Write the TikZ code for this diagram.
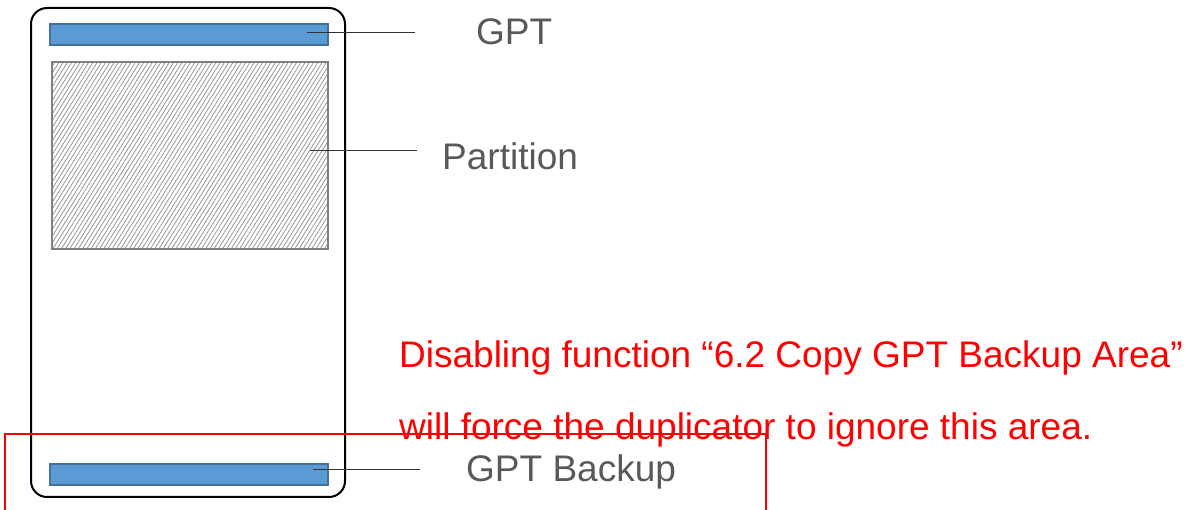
\documentclass[tikz,border=0pt]{standalone}
\usepackage{fontspec}
\setmainfont{Liberation Sans}
\usetikzlibrary{patterns.meta}
\definecolor{barblue}{HTML}{5B9BD5}
\definecolor{baredge}{HTML}{41719C}
\definecolor{txtgray}{HTML}{595959}
\tikzset{
  bar/.style={fill=barblue, draw=baredge, line width=1.2pt, inner sep=0pt, minimum width=278pt, minimum height=21pt},
  leader/.style={draw=black!80, line width=1pt},
  lbl/.style={anchor=base west, inner sep=0pt, text=txtgray, font=\fontsize{37}{44}\selectfont},
  note/.style={anchor=base west, inner sep=0pt, text=red, font=\fontsize{37}{44}\selectfont},
  redline/.style={draw=red, line width=1.8pt}
}
\begin{document}
\begin{tikzpicture}[x=1pt,y=-1pt]
\useasboundingbox (0,0) rectangle (1187,510);
% disk
\draw[line width=2pt, rounded corners=16pt] (31,8) rectangle (345,497);
\node[bar] (gptbar) at (189,34.5) {};
\coordinate (gptin) at (307,33);
\fill[pattern={Lines[angle=58,distance=3.6pt,line width=0.7pt]}, pattern color=black!45] (52,62) rectangle (328,249);
\draw[draw=gray, line width=2pt] (52,62) rectangle (328,249);
\coordinate (partin) at (310,151);
\node[bar] (bakbar) at (189,474.5) {};
\coordinate (bakin) at (313,470);
% leaders
\coordinate (gptout) at (415,33);
\coordinate (partout) at (417,151);
\coordinate (bakout) at (420,470);
\draw[leader] (gptin) -- (gptout);
\draw[leader] (partin) -- (partout);
\draw[leader] (bakin) -- (bakout);
% labels
\node[lbl] (gpt) at (476,45) {GPT};
\node[lbl] (part) at (442,170) {Partition};
\node[lbl] (bak) at (466,482) {GPT Backup};
% note
\node[note] (n1) at (399,368) {Disabling function “6.2 Copy GPT Backup Area”};
\node[note] (n2) at (399,440) {will force the duplicator to ignore this area.};
% red box
\coordinate (r1) at (5,515);
\coordinate (r2) at (5,434);
\coordinate (r3) at (766,434);
\coordinate (r4) at (766,515);
\draw[redline] (r1) -- (r2) -- (r3) -- (r4);
\end{tikzpicture}
\end{document}
